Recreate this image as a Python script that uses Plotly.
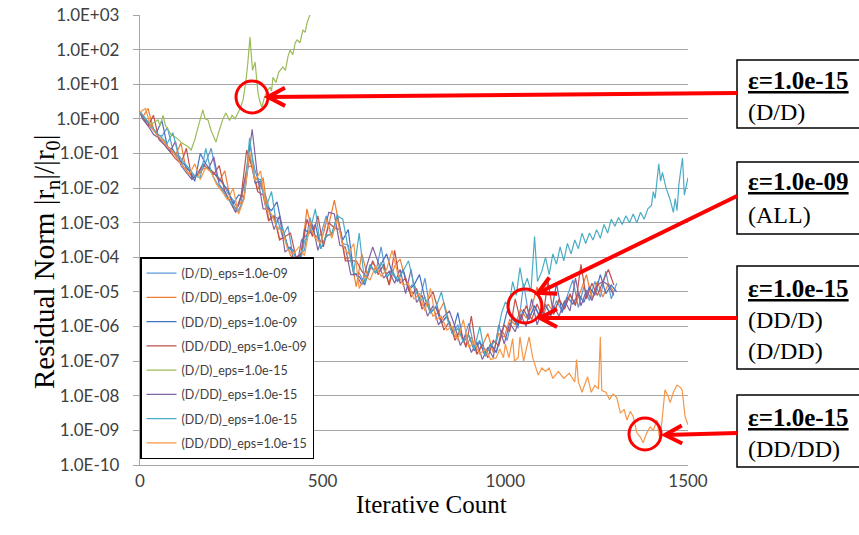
import math
import plotly.graph_objects as go

# ---------------- data (log10 of residual norm |rn|/|r0|) ----------------
iters_grid_a = list(range(0, 1306, 15))           # 0, 15, ..., 1305
iters_grid_b = [0] + list(range(7, 1306, 15))     # 0, 7, 22, ..., 1297

dd_e09_D_D = [0.2, -0.05, -0.15, -0.45, -0.5, -0.25, -0.9, -1.1, -1.4, -1.5,
              -1.7, -1.55, -1.25, -0.85, -1.65, -1.8, -2.15, -2.35, -2.65, -2.25,
              -0.7, -1.5, -1.95, -2.25, -2.85, -2.85, -3.4, -3.1, -4.05, -3.95,
              -3.8, -2.85, -3.4, -3.35, -2.8, -3.4, -2.75, -3.6, -3.65, -4.5,
              -4.45, -4.75, -4.2, -4.45, -3.7, -4.6, -4.35, -4.7, -4.35, -4.9,
              -4.75, -5.25, -4.6, -5.6, -5.4, -5.9, -5.7, -6.2, -5.95, -6.4,
              -5.9, -6.6, -6.4, -6.85, -6.5, -6.75, -6.1, -6.4, -5.65, -6.05,
              -4.75, -5.75, -5.4, -5.7, -5.35, -5.7, -5.25, -5.55, -5.1, -4.65,
              -5.45, -4.85, -5.25, -4.7, -5.15, -4.4, -5.2, -4.75]

dd_e09_D_DD = [0.15, 0.05, 0.3, -0.3, -0.55, -0.65, -0.9, -1.05, -0.7, -1.5,
               -1.65, -1.65, -1.45, -1.4, -1.55, -1.8, -1.5, -2.3, -2.6, -2.4,
               -1.4, -1.35, -2.05, -1.7, -2.9, -2.8, -3.45, -3.45, -3.95, -4.1,
               -3.9, -2.6, -3.3, -3.45, -3.6, -3.05, -2.35, -3.15, -4.05, -4.0,
               -4.85, -3.9, -4.5, -4.15, -4.4, -4.25, -4.8, -4.25, -4.05, -4.65,
               -5.05, -4.95, -5.4, -5.3, -5.7, -5.6, -5.3, -5.9, -6.3, -6.15,
               -6.55, -6.3, -6.8, -6.55, -6.2, -6.75, -6.2, -6.3, -5.8, -5.95,
               -5.5, -5.75, -5.45, -4.85, -5.7, -5.35, -5.6, -5.25, -5.45, -5.1,
               -5.35, -4.95, -4.5, -5.2, -4.7, -5.15, -4.75, -5.0]

dd_e09_DD_D = [0.2, 0.0, -0.25, -0.4, -0.05, -0.8, -0.9, -1.2, -1.3, -1.5,
               -1.8, -1.0, -1.3, -1.5, -1.65, -1.85, -2.05, -2.45, -2.2, -2.25,
               -1.05, -1.85, -1.8, -2.5, -2.65, -2.4, -3.15, -3.7, -3.8, -4.3,
               -3.2, -3.3, -3.05, -3.75, -3.4, -3.3, -2.85, -3.5, -3.2, -4.45,
               -4.55, -4.8, -4.25, -4.45, -4.2, -3.9, -4.45, -4.7, -4.35, -4.95,
               -4.8, -4.5, -5.2, -5.6, -5.45, -5.9, -5.7, -6.2, -5.6, -6.45,
               -6.25, -6.7, -6.45, -6.85, -6.5, -6.75, -6.2, -5.55, -5.8, -5.95,
               -5.5, -5.8, -5.4, -5.75, -5.4, -5.65, -4.75, -5.6, -5.15, -5.35,
               -5.05, -5.3, -4.85, -5.1, -4.5, -5.05, -4.8, -5.0]

dd_e09_DD_DD = [0.2, 0.05, -0.2, 0.1, -0.6, -0.75, -0.95, -1.15, -1.3, -0.85,
                -1.75, -1.6, -1.3, -1.45, -1.6, -1.35, -2.1, -2.4, -2.7, -2.2,
                -0.9, -1.4, -2.1, -2.2, -2.95, -2.8, -3.5, -3.4, -3.3, -4.0,
                -3.9, -2.9, -3.4, -2.8, -3.7, -3.0, -3.15, -3.2, -4.1, -4.1,
                -4.1, -4.4, -4.6, -4.1, -4.5, -4.2, -4.8, -3.8, -4.75, -4.6,
                -5.15, -4.9, -5.5, -5.25, -5.0, -5.55, -6.1, -5.85, -6.4, -6.1,
                -6.6, -5.7, -6.8, -6.5, -6.9, -6.4, -6.55, -5.95, -6.15, -5.2,
                -5.85, -5.4, -5.8, -5.35, -5.75, -4.7, -5.65, -5.2, -5.5, -5.05,
                -5.4, -4.2, -5.2, -4.75, -5.1, -4.7, -4.35, -4.8]

dd_e15_D_DD = [0.2, 0.0, -0.2, -0.45, -0.55, -0.75, -0.95, -0.65, -1.35, -1.55,
               -1.75, -1.6, -1.35, -1.45, -1.1, -1.9, -2.1, -2.4, -2.7, -2.25,
               -1.5, -0.3, -1.7, -2.6, -2.6, -3.2, -2.8, -3.85, -3.7, -4.4,
               -3.5, -3.35, -3.05, -3.8, -3.3, -2.7, -2.75, -3.65, -3.7, -4.5,
               -4.5, -4.8, -4.2, -3.7, -4.15, -4.6, -4.4, -4.75, -4.35, -5.05,
               -4.35, -5.3, -5.1, -5.7, -5.4, -5.95, -5.7, -5.55, -6.0, -6.55,
               -6.25, -6.75, -6.45, -6.95, -6.6, -6.9, -5.95, -6.5, -5.9, -6.15,
               -5.65, -6.0, -5.2, -5.95, -5.5, -5.85, -5.4, -5.7, -5.25, -5.55,
               -4.6, -5.4, -4.95, -5.25, -4.8, -4.7, -4.8, -5.1]

# (DD/D) eps=1e-15: part on grid a, then its own rising tail
dd_e15_DD_D_head = [0.2, 0.0, -0.2, -0.4, -0.55, -0.7, -0.4, -1.05, -1.25, -1.45,
                    -1.65, -1.7, -0.85, -1.55, -1.85, -2.05, -2.3, -2.5, -2.7, -2.3,
                    -0.55, -1.75, -1.75, -2.55, -2.1, -3.15, -3.15, -3.75, -3.8, -4.35,
                    -3.55, -3.25, -2.6, -3.75, -3.35, -3.35, -2.8, -2.9, -3.75, -4.45,
                    -3.3, -4.75, -4.25, -4.45, -4.15, -4.55, -4.45, -4.65, -4.4, -4.1,
                    -4.8, -5.25, -5.15, -5.6, -5.45, -5.0, -5.75, -6.2, -6.05, -6.45,
                    -6.25, -6.65, -6.0, -6.85, -6.55, -6.4]
dd_e15_DD_D_tail_x = [990, 1000, 1010, 1020, 1030, 1040, 1050, 1060, 1070, 1080,
                      1088, 1100, 1110, 1120, 1130, 1140, 1150, 1160, 1170, 1180,
                      1190, 1200, 1210, 1220, 1230, 1240, 1250, 1260, 1270, 1280,
                      1290, 1300, 1310, 1320, 1330, 1340, 1350, 1360, 1370, 1380,
                      1390, 1400, 1405, 1410, 1415, 1420, 1425, 1430, 1440, 1450,
                      1460, 1465, 1470, 1475, 1480, 1485, 1490, 1495, 1500]
dd_e15_DD_D_tail = [-5.6, -5.3, -5.4, -4.7, -5.1, -4.3, -4.9, -4.6, -5.0, -3.4,
                    -4.7, -4.4, -4.0, -4.5, -3.9, -4.2, -3.7, -4.1, -3.6, -3.9,
                    -3.5, -3.75, -3.3, -3.6, -3.3, -3.5, -3.2, -3.45, -3.05, -3.3,
                    -2.9, -3.1, -2.85, -3.05, -2.8, -3.0, -2.75, -3.0, -2.7, -2.9,
                    -2.6, -2.5, -2.1, -2.3, -1.75, -1.3, -1.8, -1.55, -2.0, -2.3,
                    -2.7, -2.3, -2.65, -1.9, -1.5, -1.13, -2.2, -1.9, -1.7]

# (DD/DD) eps=1e-15: part on grid a, then its own descending tail
dd_e15_DD_DD_head = [0.2, 0.3, -0.25, -0.45, -0.6, -0.8, -0.95, -1.2, -1.4, -1.6,
                     -1.3, -1.75, -1.4, -1.55, -1.9, -2.1, -2.35, -2.0, -2.75, -2.3,
                     -0.95, -1.8, -1.5, -2.6, -2.75, -3.15, -3.25, -3.8, -3.9, -3.7,
                     -3.95, -3.1, -3.45, -3.6, -2.9, -3.45, -2.9, -3.65, -3.9, -3.6,
                     -4.9, -4.55, -4.65, -4.25, -4.55, -4.35, -3.8, -4.45, -4.8, -4.75,
                     -5.2, -5.05, -5.55, -4.9, -5.8, -5.7, -6.1, -6.0, -6.4, -5.8,
                     -6.6, -6.45, -6.8, -6.65, -6.95]
dd_e15_DD_DD_tail_x = [975, 985, 995, 1000, 1010, 1020, 1025, 1035, 1040, 1050,
                       1060, 1065, 1075, 1090, 1100, 1110, 1120, 1130, 1145, 1160,
                       1175, 1190, 1195, 1200, 1210, 1220, 1225, 1235, 1245, 1255,
                       1260, 1264, 1275, 1285, 1295,
                       1305, 1315, 1325, 1333, 1342, 1350, 1360, 1370, 1377, 1386,
                       1396, 1405, 1415, 1423, 1430, 1437, 1445, 1451, 1460, 1470,
                       1478, 1484, 1492, 1500]
dd_e15_DD_DD_tail = [-6.9, -6.65, -6.9, -6.5, -6.9, -6.35, -7.0, -6.9, -6.3, -7.0,
                     -6.5, -6.3, -6.9, -7.4, -7.2, -7.3, -7.2, -7.5, -7.3, -7.5,
                     -7.35, -7.6, -6.95, -7.6, -7.9, -7.6, -7.45, -7.9, -7.7, -7.8,
                     -6.3, -7.85, -7.9, -8.1, -7.95,
                     -8.05, -8.5, -8.4, -8.7, -8.45, -8.6, -9.07, -9.2, -9.36, -9.1,
                     -8.9, -9.0, -8.7, -9.28, -8.6, -7.83, -8.0, -8.2, -7.9, -7.69,
                     -7.75, -7.83, -8.6, -8.84]

# (D/D) eps=1e-15: diverges upward
dd_e15_D_D_x = [0, 15, 30, 40, 49, 55, 63, 70, 85, 100, 115, 131, 140, 150, 160,
                167, 172, 178, 186, 195, 208, 215, 227, 235, 245, 252, 260, 268,
                274, 282, 290, 295, 301, 305, 308, 315, 323, 328, 334, 340, 348,
                356, 360, 364, 372, 380, 391, 398, 405, 411, 418, 425, 430, 438,
                446, 452, 458, 465, 470]
dd_e15_D_D = [0.2, 0.0, -0.15, -0.1, -0.03, -0.2, 0.1, -0.2, -0.45, -0.55,
              -0.7, -0.8, -0.9, -0.6, -0.2, 0.05, 0.26, 0.0, -0.03, -0.35,
              -0.67, -0.4, 0.0, 0.17, -0.05, 0.1, 0.0, 0.17, 0.3, 0.54,
              1.1, 1.6, 2.36, 1.8, 1.4, 1.64, 0.75, 0.5, 0.34, 0.6,
              0.8, 0.92, 0.8, 1.2, 1.05, 1.35, 1.5, 1.4, 1.8, 1.99,
              1.85, 2.2, 2.28, 2.2, 2.57, 2.5, 2.8, 3.0, 3.1]

series_names = ["(D/D)_eps=1.0e-09", "(D/DD)_eps=1.0e-09", "(DD/D)_eps=1.0e-09",
                "(DD/DD)_eps=1.0e-09", "(D/D)_eps=1.0e-15", "(D/DD)_eps=1.0e-15",
                "(DD/D)_eps=1.0e-15", "(DD/DD)_eps=1.0e-15"]
series_colors = ["#5B9BD5", "#ED7D31", "#4472C4", "#C0504D",
                 "#9BBB59", "#8064A2", "#4BACC6", "#F79646"]

y_exps = list(range(3, -11, -1))
y_ticktext = ["1.0E+03", "1.0E+02", "1.0E+01", "1.0E+00", "1.0E-01", "1.0E-02",
              "1.0E-03", "1.0E-04", "1.0E-05", "1.0E-06", "1.0E-07", "1.0E-08",
              "1.0E-09", "1.0E-10"]
x_tickvals = [0, 500, 1000, 1500]

# ---------------- figure ----------------
def pw(vals):
    return [10 ** v for v in vals]


xs = [iters_grid_a, iters_grid_b, iters_grid_a, iters_grid_b, dd_e15_D_D_x, iters_grid_b,
      iters_grid_a[:len(dd_e15_DD_D_head)] + dd_e15_DD_D_tail_x,
      iters_grid_a[:len(dd_e15_DD_DD_head)] + dd_e15_DD_DD_tail_x]
ys = [dd_e09_D_D, dd_e09_D_DD, dd_e09_DD_D, dd_e09_DD_DD, dd_e15_D_D, dd_e15_D_DD,
      dd_e15_DD_D_head + dd_e15_DD_D_tail, dd_e15_DD_DD_head + dd_e15_DD_DD_tail]

fig = go.Figure()
for name, col, x, y in zip(series_names, series_colors, xs, ys):
    fig.add_trace(go.Scatter(x=x, y=pw(y), mode="lines", name=name, legendgroup=name,
                             line=dict(color=col, width=1.2)))

# the page body margin is removed (see post_script), so page px == figure px
W, H = 859, 535
PW, PH = 548, 450
L, T = 140, 15
R, B = W - L - PW, H - T - PH


def px(xp):
    return (xp - L) / PW


def py(yp):
    return (T + PH - yp) / PH


grid_col = "#A6A6A6"
fig.update_layout(
    width=W, height=H,
    margin=dict(l=L, r=R, t=T, b=B, autoexpand=False),
    paper_bgcolor="white", plot_bgcolor="white",
    legend=dict(x=0, y=py(257), xanchor="left", yanchor="top",
                bgcolor="white", bordercolor="black", borderwidth=1.5,
                font=dict(family="Lato", size=12.5, color="#404040"),
                itemwidth=30, tracegroupgap=5),
    xaxis=dict(range=[0, 1500], tickvals=x_tickvals, showgrid=False, zeroline=False,
               showline=True, linecolor=grid_col, linewidth=1.3, ticks="",
               automargin=False, ticklabeloverflow="allow",
               tickfont=dict(family="Lato", size=17, color="#404040")),
    yaxis=dict(type="log", range=[-10, 3.0005], tickvals=[10 ** k for k in y_exps],
               ticktext=y_ticktext, showgrid=True, gridcolor=grid_col, gridwidth=1.3,
               zeroline=False, showline=True, linecolor=grid_col, linewidth=1.3,
               ticks="outside", ticklen=6, tickcolor=grid_col, ticklabelstandoff=10,
               automargin=False, ticklabeloverflow="allow",
               tickfont=dict(family="Lato", size=17, color="#404040")),
)

shapes = []
# small x tick marks on the 1.0E+00 crossing line
for tv in x_tickvals[1:]:
    shapes.append(dict(type="line", xref="x", yref="y", x0=tv, x1=tv,
                       ysizemode="pixel", yanchor=1, y0=0, y1=-7,
                       line=dict(color=grid_col, width=1.3)))

# callout boxes
boxes = [(60, 128), (162, 234), (266, 369), (395, 467)]
for top, bot in boxes:
    shapes.append(dict(type="rect", xref="paper", yref="paper",
                       x0=px(737), x1=px(880), y0=py(bot), y1=py(top),
                       line=dict(color="black", width=1.5), fillcolor="white"))

# red circles
red = "#FF0000"
circles = [(252, 97, 16), (525, 306, 17), (645, 434, 16)]
for cx, cy, r in circles:
    shapes.append(dict(type="circle", xref="paper", yref="paper",
                       x0=px(cx - r), x1=px(cx + r), y0=py(cy + r), y1=py(cy - r),
                       line=dict(color=red, width=3)))

# red arrows (tip, tail) in page pixels, drawn as line + open chevron head
arrows = [((268, 97), (737, 93)), ((538, 293), (737, 196)),
          ((540, 318), (737, 318)), ((665, 435), (737, 433))]
head_len, head_half = 17, 9
for (tx, ty), (sx, sy) in arrows:
    shapes.append(dict(type="line", xref="paper", yref="paper",
                       x0=px(sx), y0=py(sy), x1=px(tx), y1=py(ty),
                       line=dict(color=red, width=4)))
    d = math.hypot(sx - tx, sy - ty)
    ux, uy = (sx - tx) / d, (sy - ty) / d
    nx, ny = -uy, ux
    p1 = (tx + head_len * ux + head_half * nx, ty + head_len * uy + head_half * ny)
    p2 = (tx + head_len * ux - head_half * nx, ty + head_len * uy - head_half * ny)
    path = "M{:.5f},{:.5f} L{:.5f},{:.5f} L{:.5f},{:.5f}".format(
        px(p1[0]), py(p1[1]), px(tx), py(ty), px(p2[0]), py(p2[1]))
    shapes.append(dict(type="path", xref="paper", yref="paper", path=path,
                       line=dict(color=red, width=4)))
fig.update_layout(shapes=shapes)

ann = []
ann.append(dict(text="Residual Norm |r<sub>n</sub>|/|r<sub>0</sub>|", xref="paper", yref="paper",
                x=px(26), y=py(262), textangle=-90, showarrow=False,
                font=dict(family="Liberation Serif", size=29, color="black")))
ann.append(dict(text="Iterative Count", xref="paper", yref="paper", x=px(431), y=py(520),
                showarrow=False, font=dict(family="Liberation Serif", size=25, color="black")))

box_lines = [("ε=1.0e-15", 80, True), ("(D/D)", 112, False),
             ("ε=1.0e-09", 181, True), ("(ALL)", 215, False),
             ("ε=1.0e-15", 288, True), ("(DD/D)", 320, False), ("(D/DD)", 351, False),
             ("ε=1.0e-15", 417, True), ("(DD/DD)", 449, False)]
for txt, yy, head in box_lines:
    if head:
        fnt = dict(family="Liberation Serif", size=25, color="black",
                   weight="bold", lineposition="under")
    else:
        fnt = dict(family="Liberation Serif", size=24, color="black")
    ann.append(dict(text=txt, xref="paper", yref="paper", x=px(746), y=py(yy),
                    xanchor="left", yanchor="middle", showarrow=False, font=fnt))
fig.update_layout(annotations=ann)

fig.write_html("out.html", config={"displayModeBar": False},
               post_script="document.body.style.margin='0';")
